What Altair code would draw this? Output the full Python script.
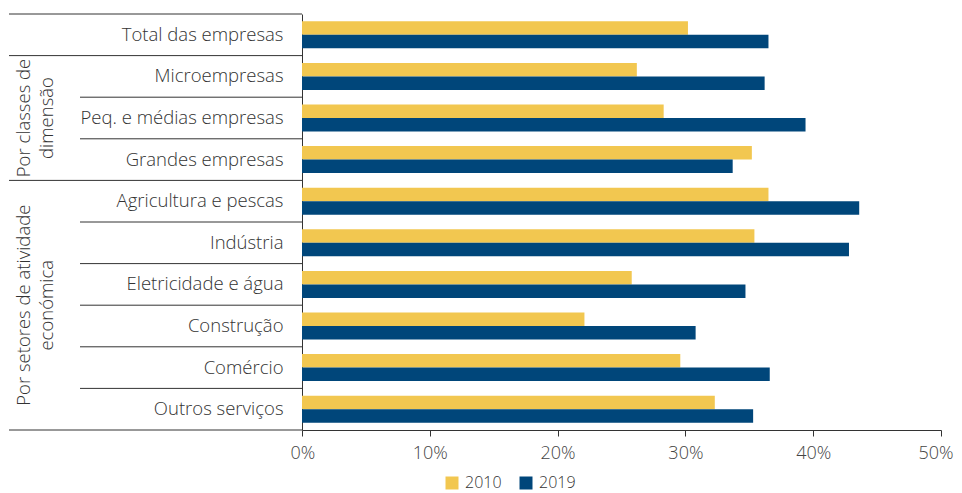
import altair as alt
import pandas as pd

categories = [
    "Total das empresas",
    "Microempresas",
    "Peq. e médias empresas",
    "Grandes empresas",
    "Agricultura e pescas",
    "Indústria",
    "Eletricidade e água",
    "Construção",
    "Comércio",
    "Outros serviços",
]
years = ["2010", "2019"]
values_2010 = [30.2, 26.2, 28.3, 35.2, 36.5, 35.4, 25.8, 22.1, 29.6, 32.3]
values_2019 = [36.5, 36.2, 39.4, 33.7, 43.6, 42.8, 34.7, 30.8, 36.6, 35.3]

group_lines = ["Total das empresas", "Microempresas", "Agricultura e pescas"]
inner_lines = ["Peq. e médias empresas", "Grandes empresas", "Indústria",
               "Eletricidade e água", "Construção", "Comércio", "Outros serviços"]
bottom_line = ["Outros serviços"]

group_names = [["Por classes de", "dimensão"], ["Por setores de atividade", "económica"]]
group_anchor = ["Peq. e médias empresas", "Construção"]
group_anchor_pos = [0.5, 0.0]

rows = []
for c, a, b in zip(categories, values_2010, values_2019):
    rows.append({"cat": c, "year": "2010", "value": a / 100})
    rows.append({"cat": c, "year": "2019", "value": b / 100})
df = pd.DataFrame(rows)

W, H = 639, 416
FONT = "Open Sans"
ysc = alt.Scale(domain=categories, paddingInner=0, paddingOuter=0)

bars = alt.Chart(df).mark_bar().encode(
    y=alt.Y("cat:N", scale=ysc, title=None,
            axis=alt.Axis(ticks=False, domain=True, domainColor="#333", domainWidth=1,
                          labelFontSize=18.5, labelColor="#333", labelPadding=19,
                          labelFont=FONT, labelFontWeight=300, labelLimit=300)),
    yOffset=alt.YOffset("year:N", scale=alt.Scale(domain=years, paddingOuter=0.54, paddingInner=0)),
    x=alt.X("value:Q", scale=alt.Scale(domain=[0, 0.5]), title=None,
            axis=alt.Axis(format=".0%", values=[0, 0.1, 0.2, 0.3, 0.4, 0.5], grid=False,
                          domainColor="#333", tickColor="#333", tickSize=6, labelPadding=8,
                          labelFlush=True, labelFlushOffset=12,
                          labelFontSize=18, labelColor="#444", labelFont=FONT,
                          labelFontWeight=300)),
    color=alt.Color("year:N", scale=alt.Scale(domain=years, range=["#F2C750", "#00467A"]),
                    legend=alt.Legend(title=None, orient="none", direction="horizontal",
                                      legendX=142, legendY=461, symbolType="square",
                                      symbolSize=169, symbolStrokeWidth=0,
                                      labelFontSize=16, labelFont=FONT, labelColor="#333",
                                      labelFontWeight=300, labelOffset=5,
                                      columnPadding=16, padding=0)),
)

def rules(cats, pos, x0):
    d = pd.DataFrame({"cat": cats})
    return alt.Chart(d).mark_rule(color="#333", strokeWidth=1).encode(
        y=alt.Y("cat:N", scale=ysc, bandPosition=pos),
        x=alt.value(x0), x2=alt.value(0),
    )

r_group = rules(group_lines, 0, -293)
r_inner = rules(inner_lines, 0, -222)
r_bottom = rules(bottom_line, 1, -293)

labels = []
for names, anc, pos in zip(group_names, group_anchor, group_anchor_pos):
    for i, line in enumerate(names):
        d = pd.DataFrame({"cat": [anc], "txt": [line]})
        labels.append(alt.Chart(d).mark_text(
            angle=270, align="center", baseline="middle", fontSize=18.5, font=FONT,
            fontWeight=300, color="#333",
        ).encode(
            y=alt.Y("cat:N", scale=ysc, bandPosition=pos),
            x=alt.value(-278 + 23 * i),
            text="txt:N",
        ))

chart = alt.layer(bars, r_group, r_inner, r_bottom, *labels).properties(
    width=W, height=H,
    autosize=alt.AutoSizeParams(type="none"),
    padding={"left": 294, "top": 6, "right": 13, "bottom": 64},
).configure_view(stroke=None)

chart.save("out.html", embed_options={"renderer": "svg", "actions": False})
